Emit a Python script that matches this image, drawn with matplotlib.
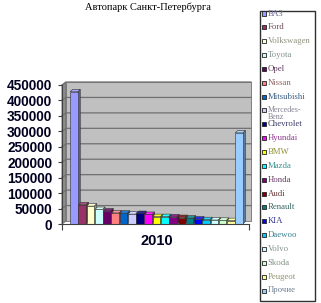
import matplotlib
matplotlib.use("Agg")
import matplotlib.pyplot as plt
from matplotlib.patches import Polygon, Rectangle
import matplotlib.colors as mcolors
import numpy as np

title = "Автопарк Санкт-Петербурга"
year_label = "2010"
brands = ["ВАЗ", "Ford", "Volkswagen", "Toyota", "Opel", "Nissan", "Mitsubishi",
          "Mercedes-\nBenz", "Chevrolet", "Hyundai", "BMW", "Mazda", "Honda", "Audi",
          "Renault", "KIA", "Daewoo", "Volvo", "Skoda", "Peugeot", "Прочие"]
values = [428000, 62000, 58000, 47000, 42000, 36000, 35000, 32000, 34000, 31000,
          24000, 24000, 23000, 21000, 19000, 16000, 14000, 13000, 12000, 11000, 295000]
colors = ["#9999FF", "#993366", "#FFFFCC", "#CCFFFF", "#660066", "#FF8080", "#0066CC",
          "#CCCCFF", "#000080", "#FF00FF", "#FFFF00", "#00FFFF", "#800080", "#800000",
          "#008080", "#0000FF", "#00CCFF", "#CCFFFF", "#CCFFCC", "#FFFF99", "#99CCFF"]
yticks = [0, 50000, 100000, 150000, 200000, 250000, 300000, 350000, 400000, 450000]

W, H = 321, 303
fig = plt.figure(figsize=(W / 100, H / 100), dpi=100)
fig.patch.set_facecolor("white")

def fx(px):
    return px / W

def fy(py):
    return 1 - py / H

L, R, T, B = 62, 249, 85, 224
ax = fig.add_axes([fx(L), fy(B), fx(R) - fx(L), fy(T) - fy(B)])
ax.set_facecolor("none")
ax.set_xlim(-1.45, 21.2)
ax.set_ylim(0, 450000)

# 3D wall (back wall offset, side wall)
dxp, dyp = 4 / (R - L), 3 / (B - T)
ax.add_patch(Polygon([(0, 0), (dxp, dyp), (dxp, 1 + dyp), (0, 1)], closed=True,
                     transform=ax.transAxes, facecolor="#8C8C8C", edgecolor="#606060",
                     lw=0.6, clip_on=False, zorder=0))
ax.add_patch(Rectangle((dxp, dyp), 1 - dxp * 0.5, 1, transform=ax.transAxes,
                       facecolor="#C0C0C0", edgecolor="#707070", lw=0.6,
                       clip_on=False, zorder=0))
for v in yticks[1:]:
    fy_ax = v / 450000
    ax.plot([0, dxp, 1 + dxp * 0.5], [fy_ax, fy_ax + dyp, fy_ax + dyp],
            transform=ax.transAxes, color="#707070", lw=0.9, clip_on=False, zorder=1)

# bars with 3D faces
x = np.arange(len(values))
w = 0.92
ddx = 0.3
ddy = 8000
for i, (xi, v, c) in enumerate(zip(x, values, colors)):
    base = np.array(mcolors.to_rgb(c))
    top_c = np.clip(base * 0.85 + 0.15, 0, 1)
    side_c = base * 0.6
    z = 2 + i
    ax.add_patch(Polygon([(xi + w / 2, 0), (xi + w / 2 + ddx, ddy), (xi + w / 2 + ddx, v + ddy),
                          (xi + w / 2, v)], closed=True, facecolor=side_c,
                         edgecolor="#303030", lw=0.4, zorder=z))
    ax.add_patch(Polygon([(xi - w / 2, v), (xi - w / 2 + ddx, v + ddy), (xi + w / 2 + ddx, v + ddy),
                          (xi + w / 2, v)], closed=True, facecolor=top_c,
                         edgecolor="#303030", lw=0.4, zorder=z))
    ax.bar(xi, v, width=w, color=c, edgecolor="#303030", linewidth=0.4, zorder=z + 0.5)

for s in ["top", "right"]:
    ax.spines[s].set_visible(False)
ax.spines["left"].set_color("#404040")
ax.spines["bottom"].set_color("#404040")
ax.spines["left"].set_zorder(50)
ax.spines["bottom"].set_zorder(50)

ax.set_yticks(yticks)
ax.set_yticklabels([str(t) for t in yticks], fontfamily="Liberation Sans",
                   fontweight="bold", fontsize=9.8, color="#000020")
ax.tick_params(axis="y", direction="out", length=3, width=0.8, color="#404040", pad=4)
ax.set_xticks([ax.get_xlim()[0], ax.get_xlim()[1]])
ax.set_xticklabels([])
ax.tick_params(axis="x", direction="out", length=4, width=0.8, color="#404040")

fig.text(fx(157), fy(241), year_label, ha="center", va="center",
         fontfamily="Liberation Sans", fontweight="bold", fontsize=10.5, color="#000020")
fig.text(fx(148), fy(7), title, ha="center", va="center",
         fontfamily="Liberation Serif", fontsize=7.5, color="black")

# legend (manual)
fig.patches.append(Rectangle((fx(260), fy(301)), fx(315) - fx(260), fy(11) - fy(301),
                             transform=fig.transFigure, facecolor="white",
                             edgecolor="#303030", lw=1.0, zorder=0))
for i, (name, c) in enumerate(zip(brands, colors)):
    yc = 13.5 + i * 13.85
    fig.patches.append(Rectangle((fx(262), fy(yc + 2)), fx(4), 4 / H,
                                 transform=fig.transFigure, facecolor=c,
                                 edgecolor="#202020", lw=0.6, zorder=3))
    tc = tuple(np.array(mcolors.to_rgb(c)) * 0.35 + 0.22)
    if "\n" in name:
        fig.text(fx(267.5), fy(yc - 4.5), name, ha="left", va="top", fontsize=5.8,
                 fontfamily="Liberation Serif", color=tc, linespacing=0.8)
    else:
        fig.text(fx(267.5), fy(yc), name, ha="left", va="center", fontsize=6.3,
                 fontfamily="Liberation Serif", color=tc)

fig.savefig("out.png", dpi=100)
